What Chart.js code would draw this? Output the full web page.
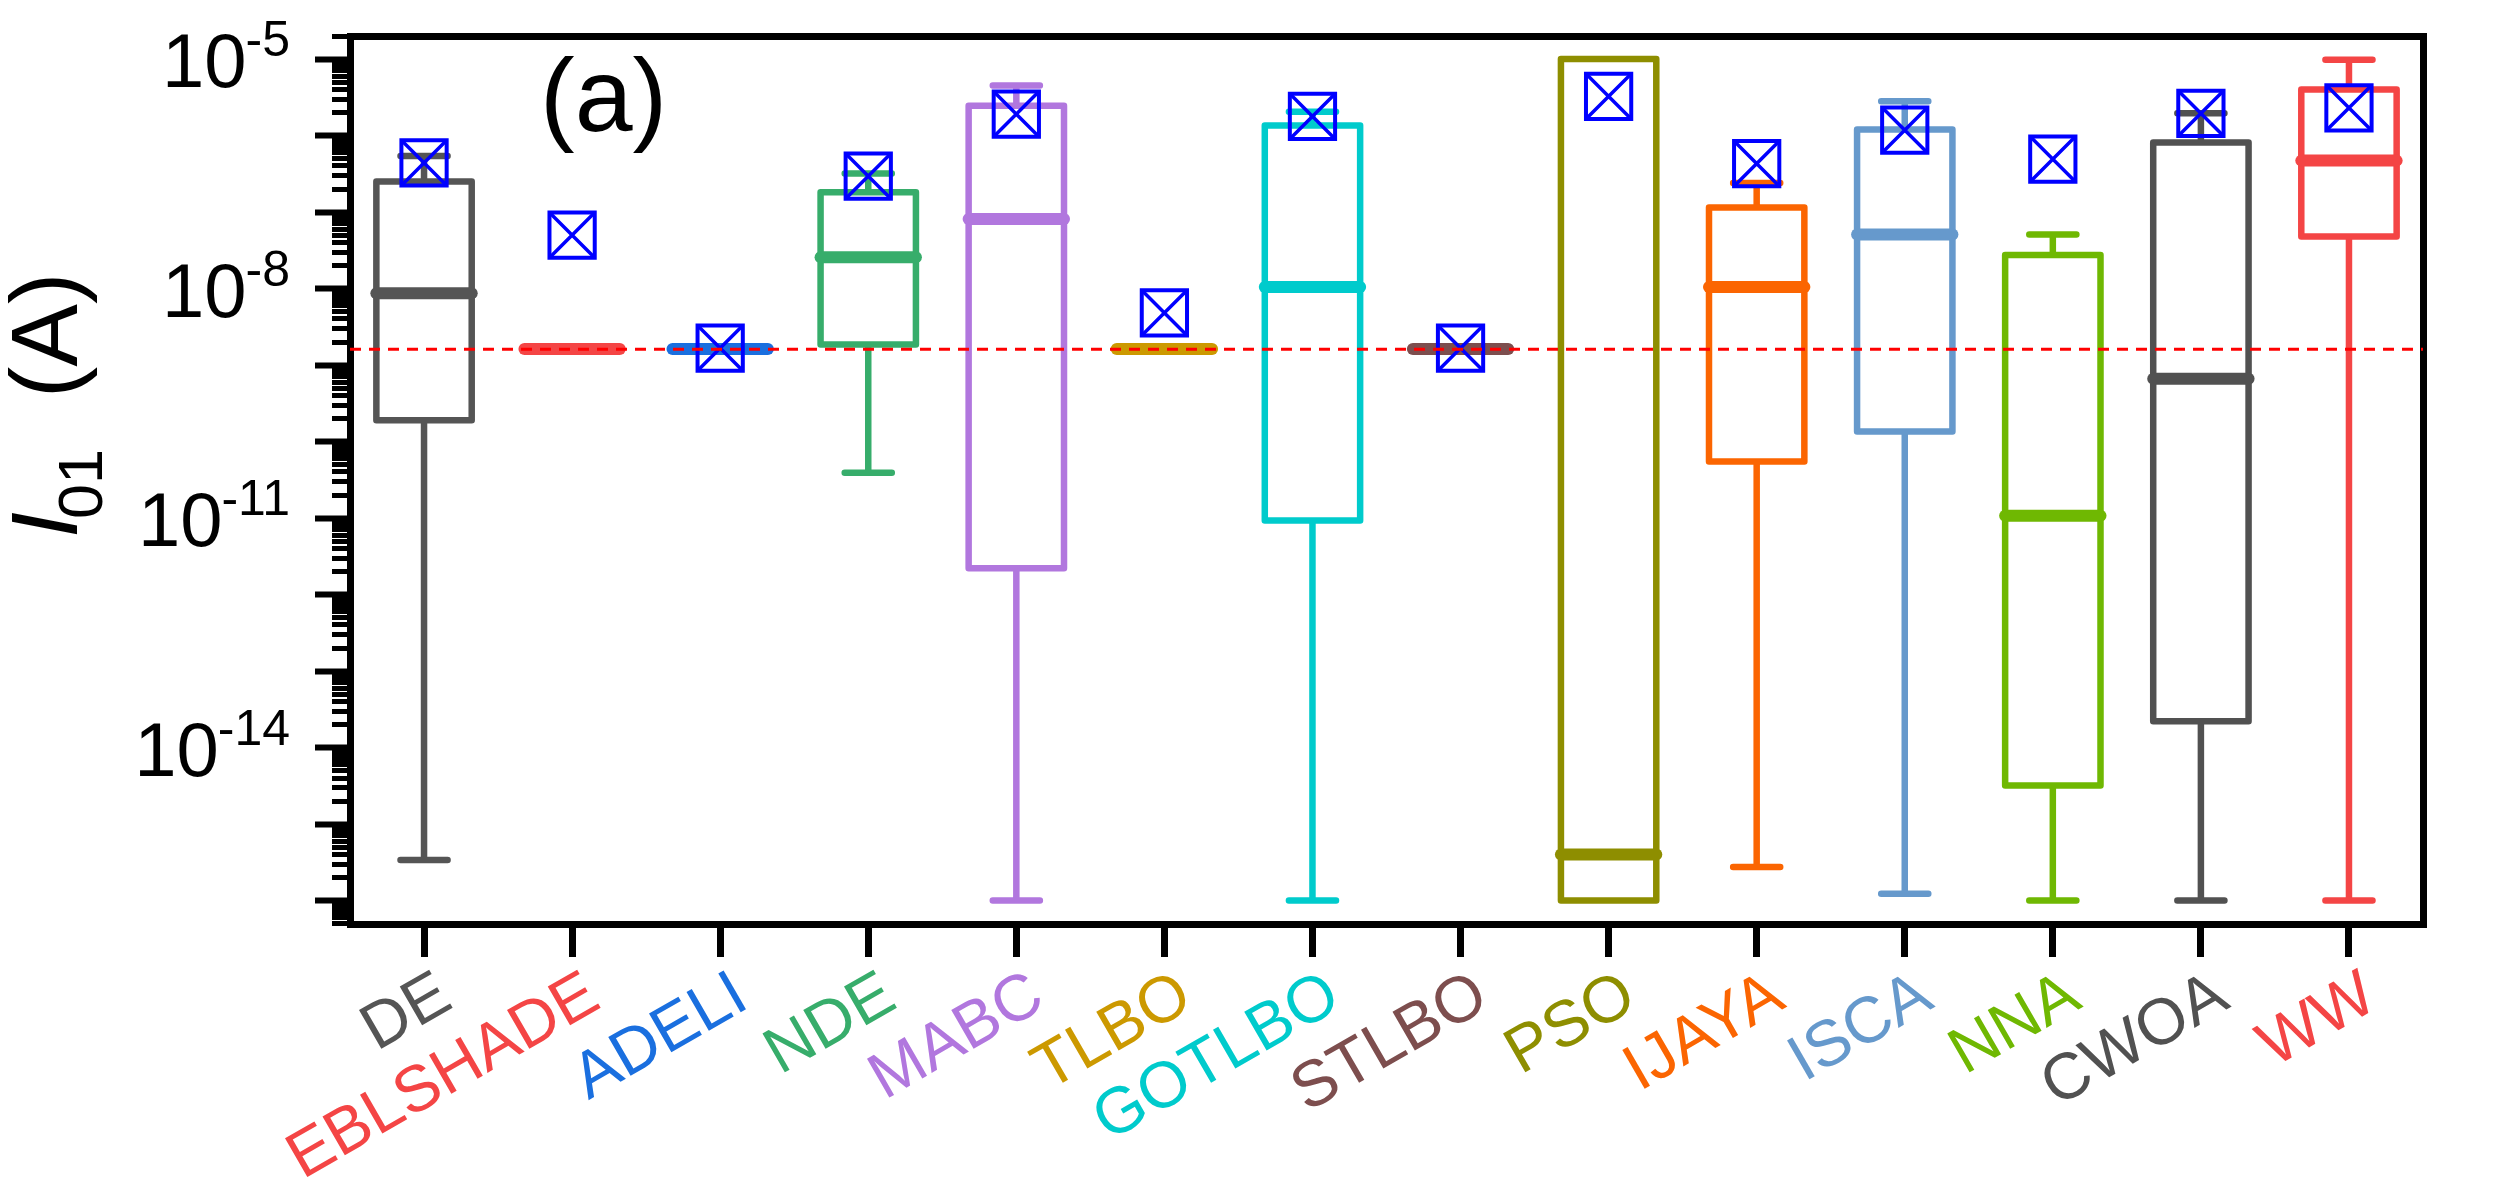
<!DOCTYPE html>
<html>
<head>
<meta charset="utf-8">
<script src="https://cdn.jsdelivr.net/npm/chart.js@4.4.1/dist/chart.umd.min.js"></script>
<style>
html,body{margin:0;padding:0;background:#ffffff;}
canvas{display:block;}
</style>
</head>
<body>
<canvas id="c" width="2498" height="1199"></canvas>
<script>
// ---------------- data ----------------
const categories = ['DE','EBLSHADE','ADELI','NDE','MABC','TLBO','GOTLBO','STLBO','PSO','IJAYA','ISCA','NNA','CWOA','WW'];
const colors = ['#555555','#F44545','#1A6FDF','#37AD6B','#B177DE','#CC9900','#00CBCC','#7D4E4E','#8E8E00','#FB6501','#6699CC','#6FB802','#515151','#F44545'];
const whiskerLow  = [3.4e-16, 1.62e-9, 1.62e-9, 3.9e-11, 1e-16, 1.62e-9, 1e-16, 1.62e-9, 1e-16, 2.75e-16, 1.23e-16, 1e-16, 1e-16, 1e-16];
const q1          = [1.9e-10, 1.62e-9, 1.62e-9, 1.86e-9, 2.2e-12, 1.62e-9, 9.3e-12, 1.62e-9, 1e-16, 5.5e-11, 1.35e-10, 3.2e-15, 2.2e-14, 4.8e-8];
const median      = [8.7e-9, 1.62e-9, 1.62e-9, 2.57e-8, 8.1e-8, 1.62e-9, 1.05e-8, 1.62e-9, 4.0e-16, 1.05e-8, 5.1e-8, 1.07e-11, 6.6e-10, 4.7e-7];
const q3          = [2.5e-7, 1.62e-9, 1.62e-9, 1.82e-7, 2.45e-6, 1.62e-9, 1.35e-6, 1.62e-9, 1.0e-5, 1.15e-7, 1.2e-6, 2.75e-8, 8.1e-7, 4.0e-6];
const whiskerHigh = [5.4e-7, 1.62e-9, 1.62e-9, 3.2e-7, 4.5e-6, 1.62e-9, 2.04e-6, 1.62e-9, 1.0e-5, 2.4e-7, 2.8e-6, 5.1e-8, 1.95e-6, 9.8e-6];
const mean        = [4.4e-7, 5.0e-8, 1.66e-9, 2.95e-7, 1.9e-6, 4.8e-9, 1.78e-6, 1.66e-9, 3.25e-6, 4.3e-7, 1.18e-6, 4.9e-7, 1.95e-6, 2.3e-6];
const referenceValue = 1.61e-9;
const yLabelExponents = [-5, -8, -11, -14];
const panelLabel = '(a)';

// ---------------- styling constants ----------------
const FONT = 'Liberation Sans, Arial, Helvetica, sans-serif';
const BOX_HALF = 0.322;
const CAP_HALF = 0.159;
Chart.defaults.font.family = FONT;

function isMajor(v){ const l = Math.log10(v); return Math.abs(l - Math.round(l)) < 1e-6; }

const datasets = [];
datasets.push({
  type:'line', label:'ref', xAxisID:'xl', yAxisID:'y',
  data:[{x:-0.5, y:referenceValue},{x:categories.length-0.5, y:referenceValue}],
  borderColor:'#FF0000', borderWidth:3, borderDash:[11,8], pointRadius:0, order:0
});
datasets.push({
  type:'line', label:'meanRect', xAxisID:'xl', yAxisID:'y', showLine:false,
  data: mean.map((v,i)=>({x:i, y:v})),
  pointStyle:'rect', pointRadius:32, pointBorderWidth:4, pointBorderColor:'#0000FF',
  pointBackgroundColor:'rgba(0,0,0,0)', order:1
});
datasets.push({
  type:'line', label:'meanCross', xAxisID:'xl', yAxisID:'y', showLine:false,
  data: mean.map((v,i)=>({x:i, y:v})),
  pointStyle:'crossRot', pointRadius:32, pointBorderWidth:3.5, pointBorderColor:'#0000FF',
  pointBackgroundColor:'rgba(0,0,0,0)', order:1
});
categories.forEach((c,i)=>{
  const pts = [
    {x:i-BOX_HALF, y:q1[i]}, {x:i+BOX_HALF, y:q1[i]}, {x:i+BOX_HALF, y:q3[i]}, {x:i-BOX_HALF, y:q3[i]}, {x:i-BOX_HALF, y:q1[i]},
    {x:i, y:null},
    {x:i, y:q3[i]}, {x:i, y:whiskerHigh[i]},
    {x:i, y:null},
    {x:i-CAP_HALF, y:whiskerHigh[i]}, {x:i+CAP_HALF, y:whiskerHigh[i]},
    {x:i, y:null},
    {x:i, y:q1[i]}, {x:i, y:whiskerLow[i]},
    {x:i, y:null},
    {x:i-CAP_HALF, y:whiskerLow[i]}, {x:i+CAP_HALF, y:whiskerLow[i]}
  ];
  datasets.push({
    type:'line', label:c+' box', xAxisID:'xl', yAxisID:'y', data:pts,
    borderColor:colors[i], borderWidth:6.5, borderCapStyle:'round', borderJoinStyle:'round',
    pointRadius:0, spanGaps:false, tension:0, order:3
  });
  datasets.push({
    type:'line', label:c+' median', xAxisID:'xl', yAxisID:'y',
    data:[{x:i-BOX_HALF, y:median[i]}, {x:i+BOX_HALF, y:median[i]}],
    borderColor:colors[i], borderWidth:12, borderCapStyle:'round',
    pointRadius:0, order:2
  });
});

const textPlugin = {
  id:'texts',
  afterDraw(chart){
    const ctx = chart.ctx;
    const ys = chart.scales.y;
    ctx.save();
    ctx.fillStyle = '#000';
    // y tick labels 10^n
    yLabelExponents.forEach(e=>{
      const py = ys.getPixelForValue(Math.pow(10, e));
      const sup = '-' + String(Math.abs(e));
      ctx.font = '50px ' + FONT;
      const supW = ctx.measureText(sup).width;
      const right = 290;
      ctx.textAlign = 'left'; ctx.textBaseline = 'alphabetic';
      ctx.fillText(sup, right - supW, py - 3);
      ctx.font = '76px ' + FONT;
      ctx.textAlign = 'right';
      ctx.fillText('10', right - supW + 1, py + 28);
    });
    // y title: I01 (A)
    ctx.save();
    ctx.translate(77, 538);
    ctx.rotate(-Math.PI/2);
    ctx.textAlign = 'left'; ctx.textBaseline = 'alphabetic';
    ctx.font = 'italic 94px ' + FONT;
    ctx.fillText('I', 0, 0);
    ctx.font = '63px ' + FONT;
    ctx.fillText('01', 19, 25);
    ctx.font = '94px ' + FONT;
    ctx.fillText('(A)', 140, 0);
    ctx.restore();
    // panel label
    ctx.font = '104px ' + FONT;
    ctx.textAlign = 'left'; ctx.textBaseline = 'alphabetic';
    ctx.fillText(panelLabel, 540, 131);
    ctx.restore();
  }
};

new Chart(document.getElementById('c'), {
  type:'line',
  data:{ labels: categories, datasets },
  options:{
    responsive:false, animation:false, devicePixelRatio:1,
    layout:{ padding:{ top:24, right:75, left:0, bottom:0 } },
    plugins:{ legend:{display:false}, tooltip:{enabled:false} },
    scales:{
      x:{
        type:'category', position:'bottom', offset:true,
        grid:{ display:true, drawOnChartArea:false, drawTicks:true, tickLength:33, tickWidth:7, tickColor:'#000', offset:false, lineWidth:7 },
        border:{ display:true, width:7, color:'#000' },
        ticks:{ color: colors, font:{ size:65 }, maxRotation:30, minRotation:30, padding:0, labelOffset:22, autoSkip:false },
        afterFit(s){ s.height = 275; }
      },
      xl:{ type:'linear', min:-0.5, max:categories.length-0.5, display:false },
      xTop:{
        type:'linear', position:'top', ticks:{display:false},
        grid:{ display:false, drawTicks:false, lineWidth:7 },
        border:{ display:true, width:7, color:'#000' },
        afterFit(s){ s.height = 0; }
      },
      y:{
        type:'logarithmic', position:'left', min:4.94e-17, max:2.0e-5,
        afterBuildTicks(scale){
          const t = [];
          for (let e=-17; e<=-5; e++) for (let m=1; m<=9; m++){
            const v = m*Math.pow(10,e);
            if (v >= scale.min*0.9999 && v <= scale.max*1.0001) t.push({value:v, major:m===1});
          }
          scale.ticks = t;
        },
        ticks:{ display:false, autoSkip:false },
        grid:{
          display:true, drawOnChartArea:false, drawTicks:true, tickLength:35, lineWidth:7, tickColor:'#000',
          tickWidth:(c)=> (c.tick && !isMajor(c.tick.value)) ? 5 : 6,
          tickBorderDash:(c)=> (c.tick && !isMajor(c.tick.value)) ? [0,17,16,200] : []
        },
        border:{ display:true, width:7, color:'#000' },
        afterFit(s){ s.width = 350; }
      },
      yRight:{
        type:'linear', position:'right', ticks:{display:false},
        grid:{ display:false, drawTicks:false, lineWidth:7 },
        border:{ display:true, width:7, color:'#000' },
        afterFit(s){ s.width = 0; }
      }
    }
  },
  plugins:[textPlugin]
});
</script>
</body>
</html>
